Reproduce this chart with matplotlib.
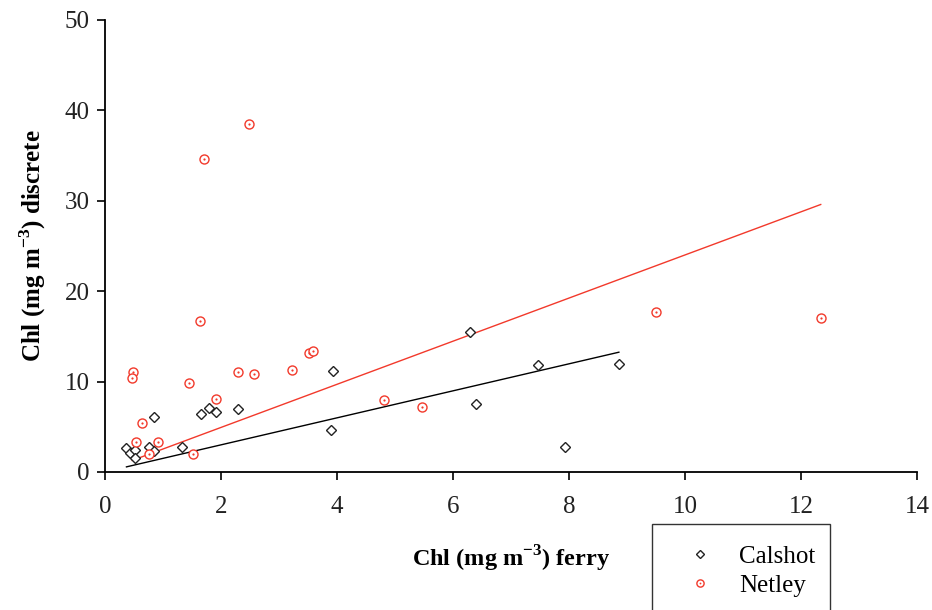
import numpy as np
import matplotlib.pyplot as plt
from matplotlib.patches import Rectangle

plt.rcParams['font.family'] = ['Liberation Serif', 'DejaVu Serif']
plt.rcParams['mathtext.fontset'] = 'custom'
plt.rcParams['mathtext.rm'] = 'Liberation Serif'
plt.rcParams['mathtext.bf'] = 'Liberation Serif:bold'

# Calshot station: ferry vs discrete chlorophyll
calshot_ferry = [0.37, 0.43, 0.51, 0.52, 0.75, 0.85, 0.85, 1.32, 1.66, 1.80,
                 1.91, 2.29, 3.93, 3.90, 6.29, 7.47, 6.40, 7.93, 8.86]
calshot_disc = [2.62, 2.07, 2.44, 1.58, 2.73, 2.36, 6.05, 2.73, 6.42, 7.05,
                6.68, 6.98, 11.15, 4.65, 15.5, 11.8, 7.57, 2.73, 11.96]

# Netley station
netley_ferry = [0.48, 0.47, 0.63, 0.53, 0.75, 0.92, 1.52, 1.45, 1.91, 2.30,
                2.57, 3.22, 3.51, 3.58, 1.64, 2.48, 1.71, 4.81, 5.47, 9.50, 12.34]
netley_disc = [11.07, 10.41, 5.46, 3.36, 1.96, 3.29, 1.96, 9.86, 8.12, 11.07,
               10.89, 11.3, 13.14, 13.36, 16.75, 38.5, 34.6, 7.97, 7.23, 17.7, 17.09]

# linear fits (slope, intercept)
calshot_fit = (1.494, 0.015)
netley_fit = (2.385, 0.16)

red = '#f2392b'

fig = plt.figure(figsize=(9.32, 6.10), dpi=100)
ax = fig.add_axes([105 / 932, 1 - 472 / 610, 812 / 932, 452 / 610])

# regression lines spanning each data range
xc = np.array([min(calshot_ferry), max(calshot_ferry)])
ax.plot(xc, calshot_fit[0] * xc + calshot_fit[1], color='black', lw=1.0)
xn = np.array([min(netley_ferry), max(netley_ferry)])
ax.plot(xn, netley_fit[0] * xn + netley_fit[1], color=red, lw=1.0)

h_cal, = ax.plot(calshot_ferry, calshot_disc, ls='none', marker='D', ms=5.5,
                 mfc='white', mec='#222222', mew=1.0)
h_net, = ax.plot(netley_ferry, netley_disc, ls='none', marker='o', ms=6.5,
                 mfc='white', mec=red, mew=1.0)
h_dot, = ax.plot(netley_ferry, netley_disc, ls='none', marker='o', ms=1.6,
                 mfc=red, mec=red, mew=0)

ax.set_xlim(0, 14)
ax.set_ylim(0, 50)
ax.set_xticks(np.arange(0, 15, 2))
ax.set_yticks(np.arange(0, 51, 10))
for s in ['top', 'right']:
    ax.spines[s].set_visible(False)
for s in ['left', 'bottom']:
    ax.spines[s].set_linewidth(1.3)
ax.tick_params(direction='out', length=6, width=1.2, labelsize=18,
               labelcolor='#222222')
ax.tick_params(axis='x', pad=11)
ax.tick_params(axis='y', pad=5)

ax.set_xlabel(r'Chl (mg m$^{\mathbf{-3}}$) ferry', fontsize=17.5, fontweight='bold',
              labelpad=19)
ax.set_ylabel(r'Chl (mg m$^{\mathbf{-3}}$) discrete', fontsize=18, fontweight='bold',
              labelpad=12)

# legend box running off the bottom edge
fig.patches.append(Rectangle((652 / 932, -0.05), 178 / 932, (610 - 524) / 610 + 0.05,
                             transform=fig.transFigure, fill=False,
                             edgecolor='#333333', lw=1.0))
fig.legend([h_cal, (h_net, h_dot)], ['Calshot', 'Netley'],
           loc='upper left', bbox_to_anchor=(652 / 932, 1 - 523 / 610),
           frameon=False, fontsize=18, handletextpad=0.6, labelspacing=0.25,
           markerscale=0.8)

fig.savefig('out.png', dpi=100)
